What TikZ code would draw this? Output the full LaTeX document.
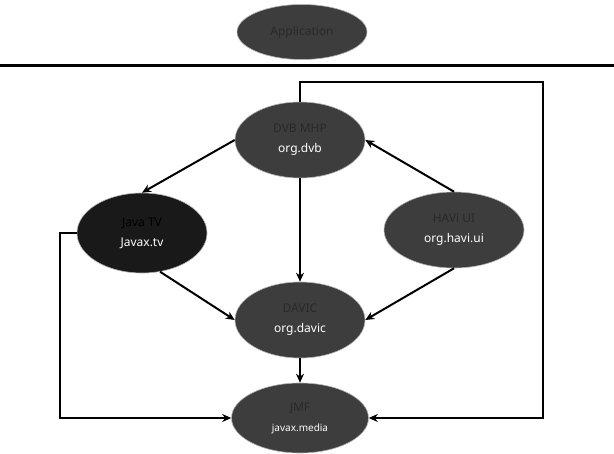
\documentclass[tikz,border=0pt]{standalone}
\usepackage{fontspec}
\setmainfont{Noto Sans}
\usetikzlibrary{arrows.meta,shapes.geometric}
\definecolor{ellfill}{gray}{0.24}
\definecolor{ellfilldark}{gray}{0.10}
\definecolor{dimtext}{gray}{0.16}
\tikzset{
  ell/.style={ellipse, fill=ellfill, draw=gray!60, line width=0.6pt, minimum width=130pt, minimum height=76pt, inner sep=0pt, align=center, font=\fontsize{12}{20}\selectfont, text=white},
  conn/.style={line width=2pt, draw=black, -{Stealth[length=9pt,width=8pt]}},
}
\newcommand{\dimline}[1]{\textcolor{dimtext}{#1}}
\begin{document}
\begin{tikzpicture}[x=1pt,y=-1pt]
\useasboundingbox (0,0) rectangle (614,454);
% separator
\coordinate (sepL) at (0,66);
\coordinate (sepR) at (614,66);
\draw[line width=3pt] (sepL) -- (sepR);
% nodes
\node[ell, minimum height=55pt] (top) at (302,32) {\dimline{Application}};
\node[ell] (dvb) at (300,140) {\dimline{DVB MHP}\\org.dvb};
\node[ell, fill=ellfilldark, minimum height=80pt] (jtv) at (142,233) {\textcolor{black}{Java TV}\\Javax.tv};
\node[ell, minimum width=140pt] (havi) at (454,230) {\dimline{HAVi UI}\\org.havi.ui};
\node[ell] (davic) at (300,320) {\dimline{DAVIC}\\org.davic};
\node[ell, minimum width=137pt, minimum height=70pt] (jmf) at (300,418) {\dimline{JMF}\\\fontsize{10}{12}\selectfont javax.media};
% connector corners
\coordinate (lt) at (60,233);
\coordinate (lb) at (60,418);
\coordinate (tt) at (300,82);
\coordinate (rt) at (543,82);
\coordinate (rb) at (543,418);
% connectors
\draw[conn] (dvb.west) -- (jtv.north);
\draw[conn] (dvb.south) -- (davic.north);
\draw[conn] (havi.north) -- (dvb.east);
\draw[conn] (havi.south) -- (davic.east);
\draw[conn] (jtv.-65) -- (davic.west);
\draw[conn] (davic.south) -- (jmf.north);
\draw[conn] (jtv.west) -- (lt) -- (lb) -- (jmf.west);
\draw[conn] (dvb.north) -- (tt) -- (rt) -- (rb) -- (jmf.east);
\end{tikzpicture}
\end{document}
